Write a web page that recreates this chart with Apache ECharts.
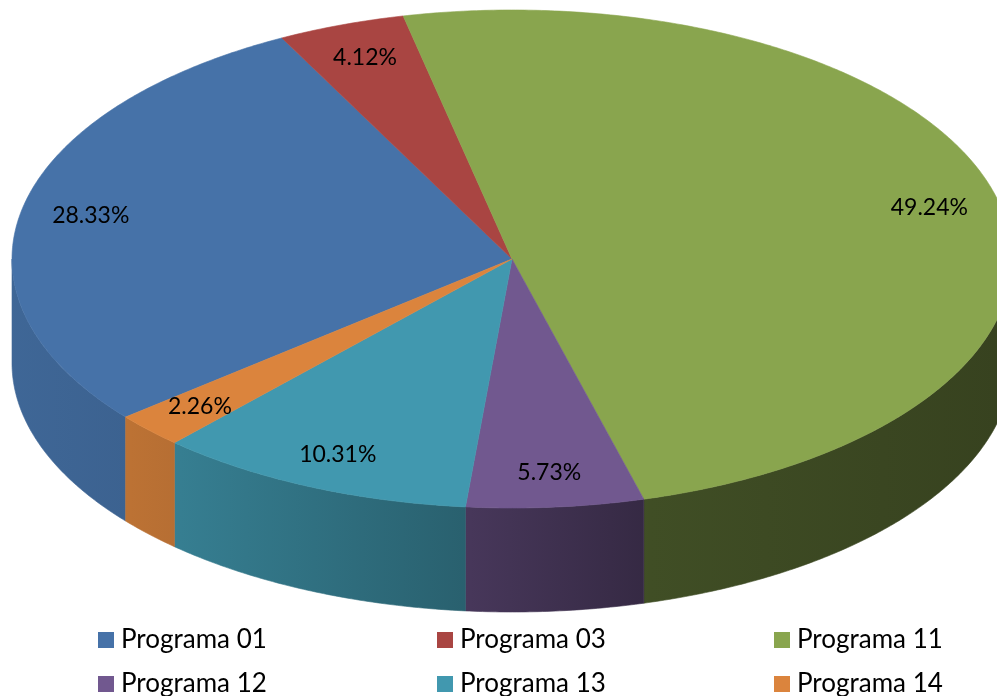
<!DOCTYPE html>
<html>
<head>
<meta charset="utf-8">
<script src="https://cdn.jsdelivr.net/npm/echarts@6/dist/echarts.min.js"></script>
<style>
    html, body { margin: 0; padding: 0; background: #fff; }
    #main { width: 997px; height: 696px; }
</style>
</head>
<body>
<div id="main"></div>
<script>
// slice data (percent of total)
var categories = ['Programa 01', 'Programa 03', 'Programa 11', 'Programa 12', 'Programa 13', 'Programa 14']
var shares = [28.33, 4.12, 49.24, 5.73, 10.31, 2.26]
var colors = ['#4672A8', '#A94542', '#89A54E', '#71588F', '#4198AF', '#DB843D']

// 3d pie geometry (pixels / degrees clockwise from 12 o'clock)
var pie = { cx: 512, cy: 259, rx: 500, ry: 249, depth: 104, start: 230.6, labelR: 0.86 }
var fontFamily = 'Lato, "Open Sans", sans-serif'

var total = shares.reduce(function (a, b) { return a + b }, 0)

function shade(hex, f) {
    var n = parseInt(hex.slice(1), 16)
    var r = Math.round(((n >> 16) & 255) * f)
    var g = Math.round(((n >> 8) & 255) * f)
    var b = Math.round((n & 255) * f)
    return 'rgb(' + r + ',' + g + ',' + b + ')'
}

function pt(a, dy) {
    var t = a * Math.PI / 180
    return [pie.cx + pie.rx * Math.sin(t), pie.cy - pie.ry * Math.cos(t) + (dy || 0)]
}

function arc(a0, a1, dy) {
    var steps = Math.max(2, Math.ceil((a1 - a0) / 0.5))
    var pts = []
    for (var k = 0; k <= steps; k++) {
        pts.push(pt(a0 + (a1 - a0) * k / steps, dy))
    }
    return pts
}

// side wall shading, lighter on the left, darker on the right
function sideFill(c) {
    return new echarts.graphic.LinearGradient(0, 0, 1000, 0, [
        { offset: 0, color: shade(c, 0.9) },
        { offset: 0.13, color: shade(c, 0.86) },
        { offset: 0.18, color: shade(c, 0.83) },
        { offset: 0.47, color: shade(c, 0.63) },
        { offset: 0.65, color: shade(c, 0.47) },
        { offset: 1, color: shade(c, 0.4) }
    ], true)
}

function renderSlice(params, api) {
    var i = params.seriesIndex
    var before = 0
    for (var j = 0; j < i; j++) before += shares[j]
    var a0 = pie.start + before / total * 360
    var a1 = a0 + api.value(0) / total * 360
    var c = colors[i]
    var children = []

    // visible outer wall (front half only)
    ;[-360, 0, 360, 720].forEach(function (k) {
        var lo = Math.max(a0, 90 + k)
        var hi = Math.min(a1, 270 + k)
        if (hi > lo) {
            var top = arc(lo, hi, 0)
            var bottom = arc(lo, hi, pie.depth).reverse()
            children.push({
                type: 'polygon',
                shape: { points: top.concat(bottom) },
                style: { fill: sideFill(c), stroke: sideFill(c), lineWidth: 0.6 }
            })
        }
    })

    // top face
    children.push({
        type: 'polygon',
        shape: { points: [[pie.cx, pie.cy]].concat(arc(a0, a1, 0)) },
        style: { fill: c, stroke: c, lineWidth: 0.6 }
    })

    // percentage label
    var mid = (a0 + a1) / 2 * Math.PI / 180
    children.push({
        type: 'text',
        x: pie.cx + pie.labelR * pie.rx * Math.sin(mid),
        y: pie.cy - pie.labelR * pie.ry * Math.cos(mid),
        style: {
            text: api.value(0).toFixed(2) + '%',
            fill: '#000',
            font: '23px ' + fontFamily,
            align: 'center',
            verticalAlign: 'middle'
        }
    })

    return { type: 'group', children: children }
}

var legendPos = [[98, 627], [437, 627], [774, 627], [98, 671], [437, 671], [774, 671]]

var chart = echarts.init(document.getElementById('main'))
chart.setOption({
    animation: false,
    legend: categories.map(function (name, i) {
        return {
            data: [name],
            left: legendPos[i][0],
            top: legendPos[i][1],
            padding: 0,
            icon: 'rect',
            itemWidth: 16,
            itemHeight: 16,
            selectedMode: false,
            textStyle: {
                fontFamily: fontFamily,
                fontSize: 26,
                color: '#000',
                padding: [0, 0, 0, 2]
            }
        }
    }),
    series: categories.map(function (name, i) {
        return {
            type: 'custom',
            name: name,
            coordinateSystem: 'none',
            itemStyle: { color: colors[i] },
            renderItem: renderSlice,
            data: [[shares[i]]]
        }
    })
})
</script>
</body>
</html>
